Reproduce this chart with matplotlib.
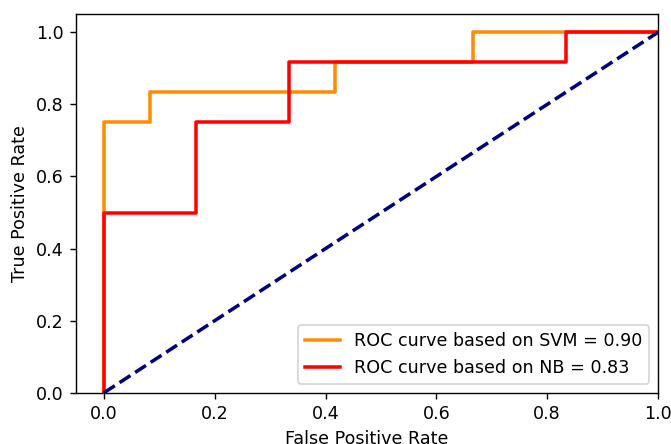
import numpy as np
import matplotlib.pyplot as plt

# ROC points (12 negatives -> steps of 1/12)
svm_fpr = [0.0, 0.0, 1/12, 1/12, 5/12, 5/12, 8/12, 8/12, 1.0]
svm_tpr = [0.0, 0.75, 0.75, 10/12, 10/12, 11/12, 11/12, 1.0, 1.0]
svm_auc = 0.90

nb_fpr = [0.0, 0.0, 2/12, 2/12, 4/12, 4/12, 10/12, 10/12, 1.0]
nb_tpr = [0.0, 0.5, 0.5, 0.75, 0.75, 11/12, 11/12, 1.0, 1.0]
nb_auc = 0.83

diag = [0, 1]

dpi = 126
fig = plt.figure(figsize=(671 / dpi, 444 / dpi), dpi=dpi)
ax = fig.add_axes([0.1137, 0.1155, 0.9806 - 0.1137, 0.9678 - 0.1155])

ax.plot(svm_fpr, svm_tpr, color='darkorange', lw=2,
        label='ROC curve based on SVM = %0.2f' % svm_auc)
ax.plot(nb_fpr, nb_tpr, color='red', lw=2,
        label='ROC curve based on NB = %0.2f' % nb_auc)
ax.plot(diag, diag, color='navy', lw=2, linestyle='--')

ax.set_xlim([-0.05, 1.0])
ax.set_ylim([0.0, 1.05])
ax.set_xlabel('False Positive Rate')
ax.set_ylabel('True Positive Rate')
ax.legend(loc='lower right')

fig.savefig('out.png', dpi=dpi)
